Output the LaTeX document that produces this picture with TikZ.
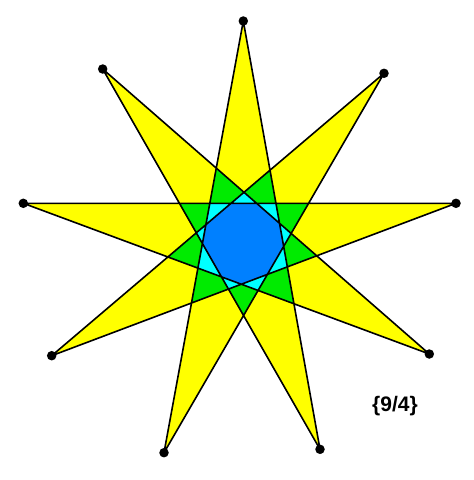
\documentclass[tikz,border=0pt]{standalone}
\usepackage{fontspec}
\setmainfont{Liberation Sans}
\definecolor{staryellow}{RGB}{255,255,0}
\definecolor{stargreen}{RGB}{0,235,0}
\definecolor{starcyan}{RGB}{0,255,255}
\definecolor{starblue}{RGB}{0,128,255}
\tikzset{
  edgeline/.style={draw=black, line width=1.6pt, line join=miter, miter limit=20},
  vdot/.style={circle, fill=black, inner sep=0pt, minimum size=9.5pt}
}
\begin{document}
\begin{tikzpicture}[x=1pt,y=-1pt]
\useasboundingbox (0,0) rectangle (474,480);
% outer vertices (measured)
\coordinate (V0) at (243.3,21);
\coordinate (V1) at (384,73.3);
\coordinate (V2) at (456,203.3);
\coordinate (V3) at (429.3,354);
\coordinate (V4) at (320,449.3);
\coordinate (V5) at (164,452.7);
\coordinate (V6) at (51.7,355.7);
\coordinate (V7) at (23.3,203.3);
\coordinate (V8) at (102.7,69);
% inner vertices from edge-line intersections
\foreach \j in {0,...,8}{
  \pgfmathtruncatemacro\jm{mod(\j+8,9)}
  \pgfmathtruncatemacro\jmm{mod(\j+7,9)}
  \pgfmathtruncatemacro\jmmm{mod(\j+6,9)}
  \pgfmathtruncatemacro\jmmmm{mod(\j+5,9)}
  \pgfmathtruncatemacro\jp{mod(\j+1,9)}
  \pgfmathtruncatemacro\jpp{mod(\j+2,9)}
  \pgfmathtruncatemacro\jppp{mod(\j+3,9)}
  \edef\tmpcmd{%
    \noexpand\coordinate (B\j) at (intersection of V\jmm--V\jpp\space and V\jmmm--V\jp);
    \noexpand\coordinate (K\j) at (intersection of V\jm--V\jppp\space and V\jmmm--V\jp);
    \noexpand\coordinate (G\j) at (intersection of V\jm--V\jppp\space and V\jmmmm--V\j);
  }\tmpcmd
}
% density 1
\fill[staryellow] (V0)--(V4)--(V8)--(V3)--(V7)--(V2)--(V6)--(V1)--(V5)--cycle;
% density 2
\fill[stargreen] (G0)--(G3)--(G6)--cycle (G1)--(G4)--(G7)--cycle (G2)--(G5)--(G8)--cycle;
% density 3
\fill[starcyan] (K0)--(K2)--(K4)--(K6)--(K8)--(K1)--(K3)--(K5)--(K7)--cycle;
% density 4
\fill[starblue] (B0)--(B1)--(B2)--(B3)--(B4)--(B5)--(B6)--(B7)--(B8)--cycle;
% edges
\draw[edgeline] (V0)--(V4)--(V8)--(V3)--(V7)--(V2)--(V6)--(V1)--(V5)--cycle;
\foreach \i in {0,...,8}{
  \node[vdot] (D\i) at (V\i) {};
}
\node[font=\bfseries\fontsize{21}{24}\selectfont] (lbl) at (395,406) {\{9/4\}};
\end{tikzpicture}
\end{document}
